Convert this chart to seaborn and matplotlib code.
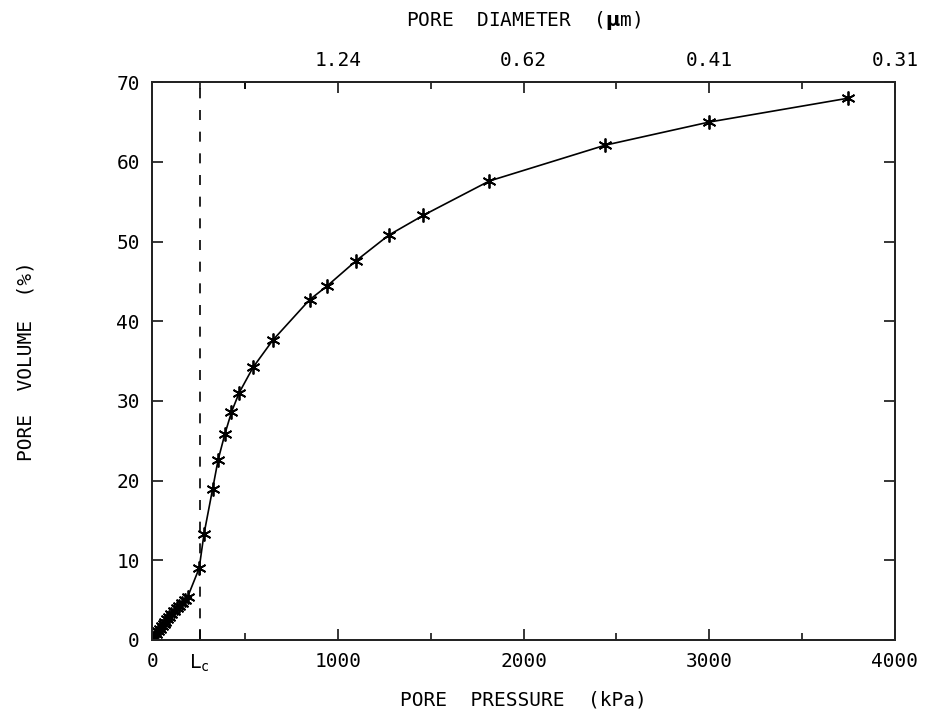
import numpy as np
import matplotlib
matplotlib.use("Agg")
import matplotlib.pyplot as plt
import seaborn as sns

# Values
pressure_kpa = [0, 10, 20, 30, 40, 50, 60, 70, 80, 90, 100, 115, 130, 145, 160, 175, 190,
                252, 278, 324, 354, 390, 426, 467, 542, 648, 847, 940, 1098, 1273, 1460,
                1815, 2440, 3000, 3750]
pore_volume = [0, 0.4, 0.8, 1.1, 1.4, 1.7, 2.0, 2.3, 2.6, 2.9, 3.2, 3.6, 4.0, 4.3, 4.6, 5.0, 5.4,
               9.0, 13.3, 18.9, 22.6, 25.8, 28.6, 31.0, 34.2, 37.6, 42.7, 44.4, 47.6, 50.8, 53.3,
               57.6, 62.1, 65.0, 68.0]
lc_pressure = 255
bottom_ticks = [0, lc_pressure, 1000, 2000, 3000, 4000]
bottom_labels = ["0", r"$\mathregular{L_c}$", "1000", "2000", "3000", "4000"]
top_ticks = [1000, 2000, 3000, 4000]
top_labels = ["1.24", "0.62", "0.41", "0.31"]
minor_ticks = [500, 1500, 2500, 3500]

sns.set_style("ticks")
plt.rcParams['font.family'] = ['DejaVu Sans Mono', 'DejaVu Sans']
plt.rcParams['text.color'] = 'black'
plt.rcParams['axes.labelcolor'] = 'black'

fs = 14

fig = plt.figure(figsize=(9.35, 7.15), dpi=100)
ax = fig.add_axes([0.163, 0.105, 0.794, 0.780])

sns.lineplot(x=pressure_kpa, y=pore_volume, ax=ax, color="black", linewidth=1.2,
             sort=False, estimator=None, marker=(6, 2, 0), markersize=10,
             markeredgewidth=1.3, markeredgecolor="black")

ax.axvline(lc_pressure, color="black", linestyle=(0, (6, 7)), linewidth=1.2)

ax.set_xlim(0, 4000)
ax.set_ylim(0, 70)
ax.set_xticks(bottom_ticks)
ax.set_xticklabels(bottom_labels)
ax.set_xticks(minor_ticks, minor=True)
ax.set_yticks(range(0, 71, 10))

ax.tick_params(axis="both", which="both", direction="in", colors="black", labelsize=fs,
               width=1.1)
ax.tick_params(axis="x", which="major", length=8, pad=9)
ax.tick_params(axis="x", which="minor", length=5)
ax.tick_params(axis="y", which="major", length=8, pad=9, right=True)
for sp in ax.spines.values():
    sp.set_visible(True)
    sp.set_linewidth(1.3)
    sp.set_color("black")

ax.set_xlabel("PORE  PRESSURE  (kPa)", fontsize=fs, labelpad=12)
ax.set_ylabel("PORE  VOLUME  (%)", fontsize=fs, labelpad=58)

# Top axis: pore diameter
top = ax.twiny()
top.set_xlim(ax.get_xlim())
top.set_xticks(top_ticks)
top.set_xticklabels(top_labels)
top.set_xticks([lc_pressure, 500] + minor_ticks, minor=True)
top.tick_params(axis="x", which="both", direction="in", colors="black", labelsize=fs,
                width=1.1, pad=9)
top.tick_params(axis="x", which="major", length=8)
top.tick_params(axis="x", which="minor", length=5)
top.set_xlabel(r"PORE  DIAMETER  ($\mathbf{\mu}$m)", fontsize=fs, labelpad=18)
for sp in top.spines.values():
    sp.set_visible(True)
    sp.set_linewidth(1.3)

fig.savefig("out.png", dpi=100, facecolor="white")
